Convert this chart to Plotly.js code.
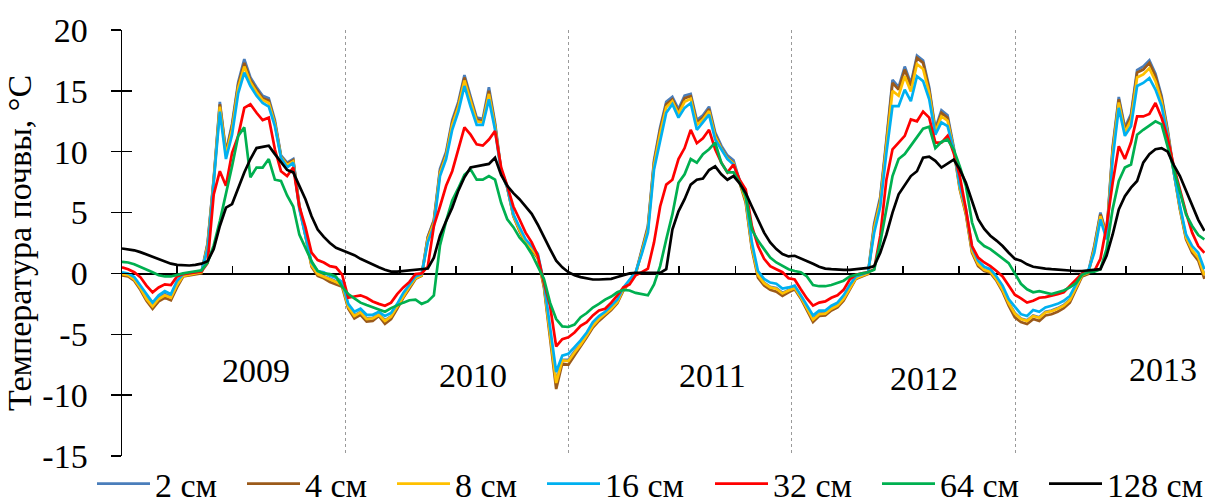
<!DOCTYPE html>
<html>
<head>
<meta charset="utf-8">
<script src="https://cdn.plot.ly/plotly-3.0.1.min.js"></script>
<style>
  html, body { margin: 0; padding: 0; background: #fff; }
  #chart { width: 1205px; height: 504px; }
</style>
</head>
<body>
<div id="chart"></div>
<script>
// ---- DATA (soil temperature, °C), sampled every 10 days from 2009-01-01 ----
const startDate = '2009-01-01';
const stepDays = 10;

const seriesNames = ['2 см', '4 см', '8 см', '16 см', '32 см', '64 см', '128 см'];

const t2 = [
  0.0,-0.1,-0.45,-1.15,-2.0,-2.6,-2.0,-1.7,-1.9,-0.85,-0.15,-0.05,0.05,0.15,2.5,7.8,14.1,10.0,12.3,15.7,17.6,16.1,15.3,14.6,14.4,12.6,9.7,9.1,9.4,5.6,3.2,0.7,0.0,-0.2,-0.45,-0.65,-0.9,
  -2.7,-3.45,-3.15,-3.7,-3.65,-3.35,-3.85,-3.5,-2.7,-1.8,-1.05,-0.35,-0.1,3.0,4.4,8.6,10.0,12.6,14.1,16.3,14.5,12.8,12.7,15.3,12.4,8.5,7.2,4.8,3.6,2.6,2.05,1.35,-0.95,-4.85,-8.9,-7.1,-7.1,
  -6.4,-5.8,-5.05,-4.25,-3.7,-3.3,-2.85,-2.3,-1.25,-0.6,0.05,1.95,3.9,9.3,12.0,14.1,14.5,13.5,14.6,14.75,12.6,13.0,13.7,11.6,10.5,9.7,9.3,7.6,6.0,2.2,-0.1,-0.75,-1.1,-1.2,-1.6,-1.35,
  -1.15,-1.9,-2.85,-3.75,-3.3,-3.25,-2.85,-2.6,-2.05,-1.15,-0.35,-0.15,0.05,4.1,6.3,11.0,15.9,15.3,17.0,15.6,17.9,17.5,15.3,11.9,13.4,13.0,10.4,7.1,5.0,1.85,0.75,0.3,0.15,-0.45,-1.3,-2.4,-3.25,
  -3.7,-3.85,-3.45,-3.6,-3.15,-3.05,-2.85,-2.6,-2.15,-1.15,-0.1,0.1,2.3,5.0,3.2,10.4,14.5,12.0,13.1,16.7,17.0,17.5,16.4,14.6,11.8,8.4,5.4,2.95,1.85,1.25,-0.1
];
const t4 = [
  -0.15,-0.25,-0.6,-1.35,-2.25,-2.9,-2.3,-2.0,-2.2,-1.15,-0.25,-0.15,-0.1,0.0,2.4,7.7,13.9,9.9,12.1,15.5,17.3,15.9,15.1,14.4,14.2,12.4,9.6,9.0,9.3,5.5,3.1,0.55,-0.2,-0.4,-0.7,-0.9,-1.1,
  -2.9,-3.7,-3.4,-3.95,-3.9,-3.5,-4.15,-3.75,-2.9,-2.0,-1.25,-0.45,-0.2,2.95,4.3,8.4,9.8,12.4,13.9,16.1,14.3,12.65,12.5,15.0,12.2,8.4,7.05,4.7,3.5,2.5,1.95,1.25,-1.15,-5.1,-9.5,-7.4,-7.5,
  -6.75,-6.05,-5.25,-4.45,-3.9,-3.45,-3.0,-2.45,-1.4,-0.75,-0.05,1.85,3.75,9.1,11.8,13.9,14.3,13.3,14.4,14.55,12.4,12.8,13.5,11.4,10.3,9.5,9.1,7.45,5.8,2.0,-0.35,-1.0,-1.35,-1.5,-1.85,-1.55,
  -1.3,-2.05,-3.0,-4.0,-3.5,-3.45,-3.05,-2.8,-2.25,-1.3,-0.45,-0.25,-0.05,3.9,6.1,10.75,15.65,15.1,16.75,15.4,17.7,17.3,15.1,11.7,13.2,12.8,10.2,6.9,4.85,1.7,0.6,0.2,0.05,-0.6,-1.5,-2.65,-3.6,
  -4.0,-4.15,-3.75,-3.9,-3.45,-3.35,-3.15,-2.85,-2.4,-1.35,-0.25,-0.05,2.15,4.85,3.1,10.2,14.3,11.8,12.9,16.5,16.75,17.3,16.2,14.4,11.6,8.3,5.25,2.8,1.7,1.05,-0.45
];
const t8 = [
  -0.05,-0.15,-0.5,-1.2,-2.1,-2.7,-2.1,-1.8,-2.0,-0.95,-0.2,-0.1,0.0,0.1,2.25,7.6,13.7,9.7,11.85,15.25,17.0,15.7,14.9,14.25,14.0,12.3,9.55,8.9,9.2,5.4,3.1,0.65,-0.05,-0.25,-0.5,-0.7,-0.95,
  -2.75,-3.5,-3.2,-3.75,-3.7,-3.4,-3.9,-3.55,-2.75,-1.85,-1.1,-0.4,-0.15,2.8,4.15,8.25,9.65,12.2,13.7,15.85,14.1,12.5,12.4,14.75,12.05,8.35,7.05,4.75,3.6,2.6,2.05,1.35,-1.0,-4.9,-9.0,-7.15,-7.2,
  -6.5,-5.85,-5.1,-4.3,-3.75,-3.35,-2.9,-2.35,-1.3,-0.65,0.0,1.75,3.6,8.9,11.5,13.65,14.15,13.1,14.1,14.35,12.2,12.65,13.35,11.25,10.25,9.45,9.05,7.55,6.0,2.2,-0.15,-0.8,-1.15,-1.25,-1.65,-1.4,
  -1.2,-1.95,-2.9,-3.8,-3.35,-3.3,-2.9,-2.65,-2.1,-1.2,-0.4,-0.2,0.0,3.7,5.9,10.45,15.0,14.6,16.2,14.95,17.2,16.8,14.8,11.6,12.9,12.55,10.2,7.0,5.0,1.85,0.75,0.3,0.15,-0.5,-1.35,-2.45,-3.3,
  -3.75,-3.9,-3.5,-3.65,-3.2,-3.1,-2.9,-2.65,-2.2,-1.2,-0.15,0.05,2.0,4.7,3.0,9.9,14.05,11.6,12.6,16.1,16.35,16.85,15.8,14.15,11.5,8.3,5.35,2.95,1.9,1.3,-0.15
];
const t16 = [
  0.1,0.0,-0.3,-1.0,-1.8,-2.4,-1.8,-1.45,-1.7,-0.6,-0.05,0.0,0.1,0.2,2.0,7.5,13.3,9.4,11.4,14.8,16.5,15.4,14.6,14.0,13.7,12.1,9.5,8.7,9.1,5.3,3.1,0.9,0.2,0.1,-0.2,-0.35,-0.7,
  -2.5,-3.15,-2.9,-3.4,-3.4,-3.15,-3.5,-3.25,-2.5,-1.6,-0.9,-0.25,-0.05,2.55,3.9,8.0,9.4,11.8,13.3,15.4,13.7,12.2,12.2,14.3,11.8,8.3,7.05,4.85,3.8,2.8,2.25,1.6,-0.75,-4.55,-8.1,-6.75,-6.6,
  -6.05,-5.5,-4.85,-4.0,-3.5,-3.15,-2.65,-2.15,-1.15,-0.5,0.1,1.6,3.35,8.55,11.0,13.2,13.9,12.8,13.6,14.0,11.8,12.4,13.05,11.0,10.2,9.4,8.95,7.7,6.35,2.55,0.2,-0.45,-0.75,-0.85,-1.25,-1.15,
  -1.0,-1.8,-2.65,-3.45,-3.05,-3.05,-2.65,-2.4,-1.8,-0.95,-0.25,-0.05,0.1,3.35,5.5,9.9,13.75,13.75,15.1,14.15,16.2,15.8,14.3,11.4,12.4,12.1,10.2,7.2,5.3,2.15,1.05,0.55,0.35,-0.25,-1.0,-2.1,-2.7,
  -3.35,-3.5,-3.0,-3.15,-2.8,-2.65,-2.5,-2.25,-1.85,-0.9,0.0,0.2,1.7,4.45,2.8,9.4,13.6,11.3,12.1,15.4,15.65,16.05,15.1,13.75,11.3,8.3,5.55,3.2,2.25,1.7,0.35
];
const t32 = [
  0.5,0.35,0.1,-0.3,-1.0,-1.55,-1.15,-0.9,-0.95,-0.25,-0.05,0.0,0.05,0.15,0.85,6.5,8.4,7.2,9.9,11.3,13.6,13.9,13.2,12.6,12.8,10.2,8.4,8.0,8.7,5.5,3.8,1.7,1.1,0.9,0.6,0.5,-0.1,
  -2.0,-1.9,-1.8,-2.0,-2.3,-2.5,-2.65,-2.4,-1.7,-1.15,-0.7,-0.05,0.0,0.55,3.9,5.5,7.2,8.4,10.2,12.0,11.4,10.6,10.5,11.0,11.7,8.7,7.2,5.5,4.45,3.35,2.55,1.45,-0.75,-2.65,-6.0,-5.4,-5.25,
  -4.85,-4.3,-4.0,-3.45,-3.05,-2.9,-2.4,-1.8,-1.15,-0.9,-0.15,0.1,0.4,2.55,5.5,7.3,7.7,9.4,10.3,11.8,10.7,11.1,11.8,10.2,9.1,8.3,8.95,7.7,6.9,3.9,2.25,1.2,0.6,0.35,0.1,-0.4,
  -0.5,-1.3,-2.05,-2.65,-2.4,-2.3,-2.0,-1.8,-1.35,-0.5,-0.1,0.0,0.1,0.35,3.1,7.7,10.2,10.75,11.3,12.65,12.5,13.3,12.8,10.75,10.75,11.3,9.9,8.0,5.3,2.25,1.3,0.9,0.6,0.2,-0.25,-1.0,-1.75,
  -2.05,-2.4,-2.25,-2.0,-1.95,-1.85,-1.7,-1.55,-1.05,-0.5,0.0,0.1,0.2,1.2,3.9,7.45,10.45,9.4,10.75,12.9,12.9,13.1,14.0,12.8,11.1,8.8,6.9,5.0,3.35,2.25,1.7
];
const t64 = [
  0.95,0.9,0.75,0.55,0.35,0.1,-0.15,-0.25,-0.25,-0.1,0.0,0.1,0.15,0.25,0.9,2.3,4.3,6.5,8.8,11.3,12.0,7.9,8.7,8.7,9.4,7.7,7.6,6.4,5.5,3.2,2.1,1.0,0.2,0.0,-0.05,-0.25,-1.1,
  -1.7,-2.05,-2.4,-2.6,-2.8,-3.0,-3.15,-2.85,-2.6,-2.4,-2.2,-2.15,-2.5,-2.3,-1.8,2.3,4.3,6.0,7.0,8.1,8.55,7.7,7.7,8.0,7.7,5.8,4.45,3.8,2.95,2.4,1.6,0.6,-0.45,-2.4,-3.75,-4.35,-4.4,
  -4.2,-3.6,-3.25,-2.8,-2.5,-2.15,-1.9,-1.55,-1.35,-1.4,-1.6,-1.7,-1.8,-0.9,0.6,2.8,4.85,7.45,8.15,9.4,9.1,9.8,10.2,10.75,9.1,8.3,8.3,7.45,6.35,3.6,2.7,2.0,1.3,0.9,0.6,0.35,
  0.2,0.1,-0.25,-0.95,-1.05,-1.05,-0.95,-0.8,-0.6,-0.25,-0.1,0.0,0.1,0.3,2.55,5.4,8.0,9.4,9.8,10.5,11.2,11.9,12.05,10.3,10.8,11.0,10.2,8.8,7.2,4.2,2.7,2.25,2.0,1.6,1.2,0.85,0.0,
  -0.85,-1.3,-1.55,-1.45,-1.6,-1.7,-1.55,-1.4,-1.15,-0.8,-0.1,0.1,0.15,0.35,2.0,5.3,7.6,8.7,8.95,11.4,11.8,12.15,12.5,12.25,10.45,8.55,6.8,4.85,3.9,3.15,2.8
];
const t128 = [
  2.05,2.0,1.9,1.75,1.55,1.35,1.15,0.95,0.8,0.7,0.65,0.65,0.7,0.8,1.0,2.0,3.9,5.4,5.7,7.0,8.3,9.4,10.3,10.4,10.5,9.8,9.1,8.5,8.3,7.2,6.1,4.7,3.6,3.0,2.5,2.1,1.9,
  1.7,1.5,1.2,0.95,0.7,0.5,0.3,0.15,0.15,0.2,0.2,0.25,0.3,0.4,1.3,3.1,4.3,5.4,6.8,7.9,8.7,8.8,8.9,9.0,9.5,8.1,7.2,6.6,6.1,5.5,4.9,4.0,2.95,2.0,1.05,0.5,0.1,
  -0.15,-0.3,-0.4,-0.5,-0.5,-0.5,-0.45,-0.3,-0.15,0.0,0.05,0.05,0.05,0.05,0.05,0.35,3.6,5.1,6.1,7.3,7.7,7.8,8.5,8.8,8.15,7.7,8.0,7.4,6.6,5.5,4.45,3.35,2.55,2.0,1.6,1.4,
  1.45,1.25,1.05,0.8,0.55,0.4,0.35,0.3,0.3,0.3,0.35,0.4,0.45,0.6,1.7,3.2,5.0,6.5,7.2,8.0,8.4,9.5,9.6,9.25,8.7,9.05,9.35,8.55,7.45,5.95,4.45,3.65,3.1,2.7,2.25,1.7,1.2,
  1.05,0.75,0.55,0.45,0.4,0.35,0.3,0.25,0.2,0.2,0.2,0.25,0.3,0.35,1.45,3.2,5.25,6.35,7.05,7.6,9.1,9.8,10.2,10.3,10.0,8.9,8.0,6.85,5.6,4.4,3.5
];

const yearLabels = ['2009', '2010', '2011', '2012', '2013'];
const yTickVals = [-15, -10, -5, 0, 5, 10, 15, 20];
const yTickText = ['-15', '-10', '-5', '0', '5', '10', '15', '20'];
const yTitle = 'Температура почвы, °С';

// ---- STYLE / LAYOUT ----
const seriesColors = ['#4A7EBB', '#9B5A1A', '#FFC000', '#00B0F0', '#FF0000', '#00B050', '#000000'];
const legendEntryWidths = [82, 82, 82, 100, 99, 99, 99];
const yearLabelPos = [
  {x: '2009-08-08', y: -8.0},
  {x: '2010-07-29', y: -8.35},
  {x: '2011-08-24', y: -8.4},
  {x: '2012-08-04', y: -8.6},
  {x: '2013-08-30', y: -7.9}
];
const xRange = ['2009-01-01', '2013-11-07'];
const FONT = '"Liberation Serif", "Times New Roman", Times, serif';

function dateSeq(n) {
  const out = [];
  const t0 = Date.parse(startDate + 'T00:00:00Z');
  for (let i = 0; i < n; i++) {
    const d = new Date(t0 + i * stepDays * 86400000);
    out.push(d.toISOString().slice(0, 10));
  }
  return out;
}

const allSeries = [t2, t4, t8, t16, t32, t64, t128];
const dates = dateSeq(t2.length);

const traces = allSeries.map((vals, i) => ({
  type: 'scatter',
  mode: 'lines',
  name: seriesNames[i],
  x: dates,
  y: vals,
  xaxis: 'x',
  yaxis: 'y',
  legendwidth: legendEntryWidths[i],
  line: {color: seriesColors[i], width: 2.7, shape: 'linear'},
  hoverinfo: 'skip'
}));

// empty helper trace so the overlay axis (inner half of the crossing y ticks) is drawn
traces.push({
  type: 'scatter', mode: 'lines', x: [], y: [],
  xaxis: 'x', yaxis: 'y2', showlegend: false, hoverinfo: 'skip'
});

const annotations = yearLabels.map((txt, i) => ({
  text: txt,
  x: yearLabelPos[i].x,
  y: yearLabelPos[i].y,
  xref: 'x', yref: 'y',
  showarrow: false,
  xanchor: 'center', yanchor: 'middle',
  font: {family: FONT, size: 34, color: '#000'}
}));

const layout = {
  width: 1205,
  height: 504,
  paper_bgcolor: '#ffffff',
  plot_bgcolor: '#ffffff',
  margin: {l: 122, r: 0, t: 30, b: 48, autoexpand: false},
  font: {family: FONT, size: 34, color: '#000'},
  showlegend: true,
  legend: {
    orientation: 'h',
    x: -0.0277, xanchor: 'left',
    y: -0.066, yanchor: 'middle',
    font: {family: FONT, size: 34, color: '#000'},
    bgcolor: 'rgba(0,0,0,0)',
    itemwidth: 53,
    traceorder: 'normal'
  },
  xaxis: {
    type: 'date',
    range: xRange,
    anchor: 'free',
    position: 15 / 35,
    showline: true, linecolor: '#000', linewidth: 1.5,
    ticks: 'inside', ticklen: 7, tickwidth: 1.5, tickcolor: '#000',
    tick0: '2009-01-01', dtick: 'M12',
    showticklabels: false,
    showgrid: true, gridcolor: '#9a9a9a', gridwidth: 1, griddash: 'dot',
    minor: {
      tick0: '2009-01-01', dtick: 'M3',
      ticks: 'inside', ticklen: 7, tickwidth: 1.5, tickcolor: '#000',
      showgrid: false
    },
    zeroline: false,
    layer: 'below traces',
    fixedrange: true
  },
  yaxis: {
    range: [-15, 20],
    tickvals: yTickVals,
    ticktext: yTickText,
    ticks: 'outside', ticklen: 10, tickwidth: 1.5, tickcolor: '#000',
    ticklabelstandoff: 16,
    showline: true, linecolor: '#000', linewidth: 1.5,
    showgrid: false, zeroline: false,
    tickfont: {family: FONT, size: 34, color: '#000'},
    title: {text: yTitle, font: {family: FONT, size: 34, color: '#000'}, standoff: 0},
    fixedrange: true
  },
  yaxis2: {
    range: [-15, 20],
    overlaying: 'y',
    anchor: 'x',
    side: 'left',
    tickvals: yTickVals,
    ticks: 'inside', ticklen: 10, tickwidth: 1.5, tickcolor: '#000',
    showticklabels: false, showline: false, showgrid: false, zeroline: false,
    fixedrange: true
  },
  annotations: annotations
};

Plotly.newPlot('chart', traces, layout, {staticPlot: true, displayModeBar: false});
</script>
</body>
</html>
